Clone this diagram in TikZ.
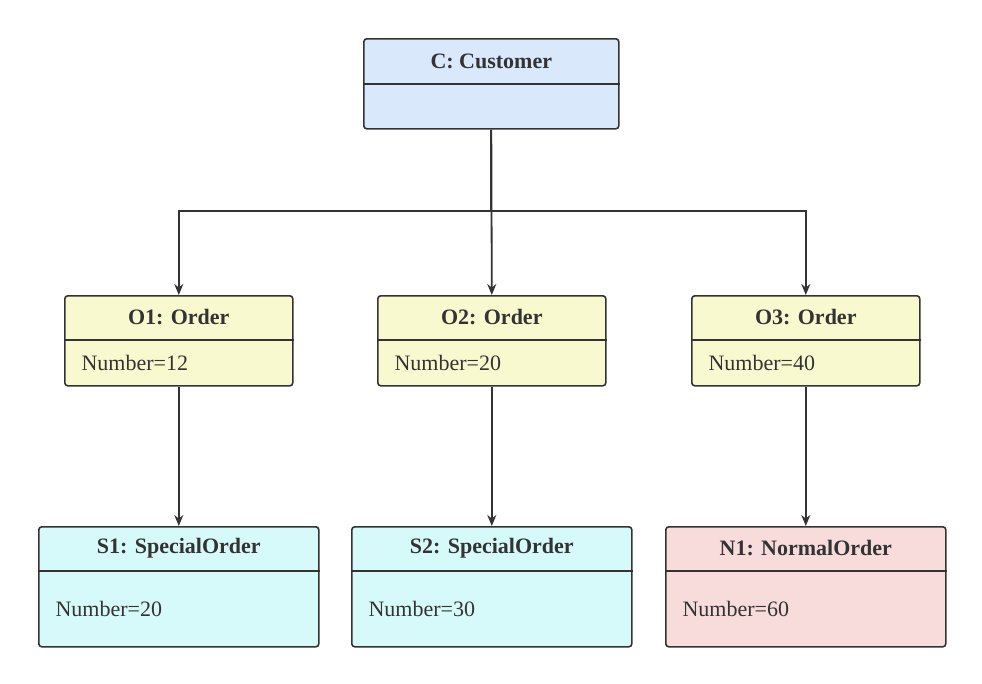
\documentclass[tikz,border=0pt]{standalone}
\usepackage{fontspec}
\setmainfont{Liberation Serif}
\usetikzlibrary{positioning,arrows.meta,calc}
\definecolor{lineclr}{HTML}{333333}
\definecolor{custfill}{HTML}{DAE8FC}
\definecolor{ordfill}{HTML}{F9F9D0}
\definecolor{specfill}{HTML}{D6FAFA}
\definecolor{normfill}{HTML}{F8DCDC}
\tikzset{
  obj/.style={draw=lineclr, fill=#1, line width=1.6pt, rounded corners=3pt,
    inner sep=0pt, anchor=north west},
  ttl/.style={font=\rmfamily\bfseries\fontsize{22}{24}\selectfont, text=lineclr},
  attr/.style={font=\rmfamily\fontsize{22}{24}\selectfont, text=lineclr, anchor=west},
  link/.style={draw=lineclr, line width=1.8pt, -{Stealth[length=11pt,width=9pt]}}
}
% \objbox{name}{x}{y}{width}{height}{split}{title}{attribute}{fill}
\newcommand{\objbox}[9]{%
  \node[obj=#9, minimum width=#4pt, minimum height=#5pt] (#1) at (#2,#3) {};
  \node[ttl] (#1-t) at ($(#1.north)+(0,#6/2)$) {#7};
  \draw[draw=lineclr, line width=1.6pt] ($(#1.north west)+(0,#6)$) -- ($(#1.north east)+(0,#6)$);
  \node[attr] (#1-a) at ($(#1.north west)!0.5!(#1.north west |- 0,#3+#5+#6)+(14,0)$) {#8};
}
\begin{document}
\begin{tikzpicture}[x=1pt,y=-1pt]
  \useasboundingbox (0,0) rectangle (982,683);
  %Objects
  \objbox{C}{363}{38}{255}{90}{46}{C: Customer}{}{custfill}
  \objbox{O1}{64}{295}{228}{90}{45}{O1: Order}{Number=12}{ordfill}
  \objbox{O2}{377}{295}{228}{90}{45}{O2: Order}{Number=20}{ordfill}
  \objbox{O3}{691}{295}{228}{90}{45}{O3: Order}{Number=40}{ordfill}
  \objbox{S1}{38}{526}{280}{120}{45}{S1: SpecialOrder}{Number=20}{specfill}
  \objbox{S2}{351}{526}{280}{120}{45}{S2: SpecialOrder}{Number=30}{specfill}
  \objbox{N1}{665}{526}{280}{120}{45}{N1: NormalOrder}{Number=60}{normfill}
  %Lines
  \coordinate (fork) at (C.south |- 0,211);
  \draw[link] (C.south) -- (fork) -| (O1.north);
  \draw[link] (C.south) -- (O2.north);
  \draw[link] (fork) -| (O3.north);
  \draw[link] (O1.south) -- (S1.north);
  \draw[link] (O2.south) -- (S2.north);
  \draw[link] (O3.south) -- (N1.north);
\end{tikzpicture}
\end{document}
